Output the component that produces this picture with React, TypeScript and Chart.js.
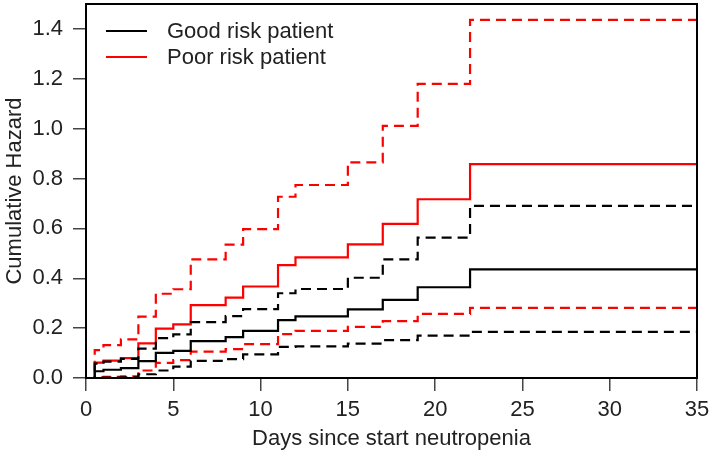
import React, { useEffect, useRef } from "react";
import { Chart, registerables } from "chart.js";

Chart.register(...registerables);

const days = [0, 0.5, 1, 2, 3, 4, 5, 6, 8, 9, 11, 12, 15, 17, 19, 22, 35];

const goodEstimate = [0, 0.027, 0.033, 0.040, 0.068, 0.101, 0.109, 0.148, 0.164, 0.189, 0.232, 0.247, 0.275, 0.313, 0.364, 0.436, 0.436];
const goodLower = [0, 0.001, 0.002, 0.003, 0.015, 0.030, 0.046, 0.069, 0.076, 0.095, 0.125, 0.127, 0.138, 0.152, 0.170, 0.185, 0.185];
const goodUpper = [0, 0.058, 0.066, 0.077, 0.118, 0.160, 0.175, 0.224, 0.248, 0.276, 0.340, 0.357, 0.402, 0.476, 0.563, 0.690, 0.690];

const poorEstimate = [0, 0.062, 0.070, 0.080, 0.139, 0.198, 0.215, 0.292, 0.322, 0.367, 0.453, 0.484, 0.536, 0.618, 0.717, 0.858, 0.858];
const poorLower = [0, 0.003, 0.005, 0.007, 0.030, 0.061, 0.072, 0.106, 0.116, 0.136, 0.176, 0.189, 0.205, 0.228, 0.257, 0.281, 0.281];
const poorUpper = [0, 0.112, 0.132, 0.155, 0.246, 0.338, 0.356, 0.476, 0.535, 0.597, 0.727, 0.774, 0.865, 1.011, 1.180, 1.436, 1.436];

const xTicks = [0, 5, 10, 15, 20, 25, 30, 35];
const yTicks = [0, 0.2, 0.4, 0.6, 0.8, 1.0, 1.2, 1.4];

const legendLabels = ["Good risk patient", "Poor risk patient"];
const seriesColors = ["#000000", "#ff0000"];

const FONT = "'Liberation Sans', Arial, Helvetica, sans-serif";
const FONT_SIZE = 22;

const toPoints = (vals: number[]) => days.map((d, i) => ({ x: d, y: vals[i] }));

const boxAndLegend = {
  id: "boxAndLegend",
  afterDraw(chart: any) {
    const { ctx, chartArea } = chart;
    ctx.save();
    ctx.strokeStyle = "#000";
    ctx.lineWidth = 2;
    ctx.setLineDash([]);
    ctx.strokeRect(chartArea.left, chartArea.top, chartArea.right - chartArea.left, chartArea.bottom - chartArea.top);
    ctx.font = `${FONT_SIZE}px ${FONT}`;
    ctx.textBaseline = "middle";
    ctx.textAlign = "left";
    const x0 = chartArea.left + 20;
    const y0 = chartArea.top + 27;
    const gap = 26;
    legendLabels.forEach((label, i) => {
      const y = y0 + i * gap;
      ctx.strokeStyle = seriesColors[i];
      ctx.lineWidth = 2;
      ctx.beginPath();
      ctx.moveTo(x0, y);
      ctx.lineTo(x0 + 41, y);
      ctx.stroke();
      ctx.fillStyle = "#222";
      ctx.fillText(label, x0 + 61, y + 1);
    });
    ctx.restore();
  },
};

export default function App() {
  const ref = useRef<HTMLCanvasElement | null>(null);

  useEffect(() => {
    if (!ref.current) return;
    const mk = (label: string, data: number[], color: string, dashed: boolean) => ({
      label,
      data: toPoints(data),
      borderColor: color,
      backgroundColor: color,
      borderWidth: 2.2,
      borderDash: dashed ? [10, 6] : [],
      stepped: true,
      pointRadius: 0,
      fill: false,
    });
    const chart = new Chart(ref.current, {
      type: "line",
      data: {
        datasets: [
          mk("Good lower", goodLower, seriesColors[0], true),
          mk("Good upper", goodUpper, seriesColors[0], true),
          mk("Good risk patient", goodEstimate, seriesColors[0], false),
          mk("Poor lower", poorLower, seriesColors[1], true),
          mk("Poor upper", poorUpper, seriesColors[1], true),
          mk("Poor risk patient", poorEstimate, seriesColors[1], false),
        ],
      },
      options: {
        animation: false,
        responsive: false,
        maintainAspectRatio: false,
        layout: { padding: { top: 4, right: 12, left: 0, bottom: 0 } },
        plugins: { legend: { display: false }, tooltip: { enabled: false } },
        scales: {
          x: {
            type: "linear",
            min: 0,
            max: 35,
            afterBuildTicks: (s: any) => {
              s.ticks = xTicks.map((v) => ({ value: v }));
            },
            afterFit: (s: any) => {
              s.height = 78;
              s.paddingLeft = 0;
              s.paddingRight = 0;
            },
            ticks: {
              color: "#222",
              font: { family: FONT, size: FONT_SIZE },
              padding: 6,
              maxRotation: 0,
              autoSkip: false,
              callback: (v: any) => String(v),
            },
            grid: { drawOnChartArea: false, drawTicks: true, tickLength: 13, color: "#444", lineWidth: 1.5 },
            border: { display: false },
            title: {
              display: true,
              text: "Days since start neutropenia",
              color: "#222",
              font: { family: FONT, size: FONT_SIZE },
              padding: { top: 0, bottom: 4 },
            },
          },
          y: {
            type: "linear",
            min: 0,
            max: 1.5,
            afterBuildTicks: (s: any) => {
              s.ticks = yTicks.map((v) => ({ value: v }));
            },
            afterFit: (s: any) => {
              s.width = 86;
              s.paddingTop = 0;
              s.paddingBottom = 0;
            },
            ticks: {
              color: "#222",
              font: { family: FONT, size: FONT_SIZE },
              padding: 10,
              autoSkip: false,
              callback: (v: any) => Number(v).toFixed(1),
            },
            grid: { drawOnChartArea: false, drawTicks: true, tickLength: 13, color: "#444", lineWidth: 1.5 },
            border: { display: false },
            title: {
              display: true,
              text: "Cumulative Hazard",
              color: "#222",
              font: { family: FONT, size: FONT_SIZE },
              padding: { top: 2, bottom: 0 },
            },
          },
        },
      },
      plugins: [boxAndLegend],
    });
    return () => chart.destroy();
  }, []);

  return (
    <div style={{ position: "absolute", left: 0, top: 0, width: 709, height: 456, background: "#fff" }}>
      <canvas ref={ref} width={709} height={456} style={{ width: 709, height: 456 }} />
    </div>
  );
}
